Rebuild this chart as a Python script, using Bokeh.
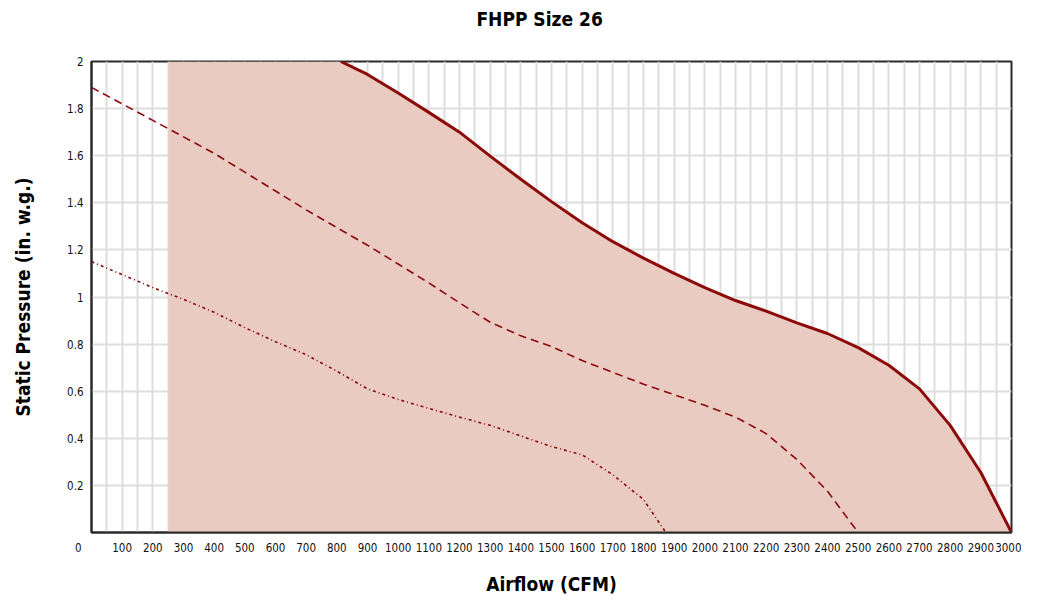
from bokeh.plotting import figure
from bokeh.models import Range1d, FixedTicker, NumeralTickFormatter, LinearAxis
from bokeh.embed import file_html
from bokeh.resources import INLINE

# ---- data ----
solid_cfm = [813, 900, 1000, 1100, 1200, 1300, 1400, 1500, 1600, 1700, 1800, 1900,
             2000, 2100, 2200, 2300, 2400, 2500, 2600, 2700, 2800, 2900, 3000]
solid_sp = [2.00, 1.945, 1.866, 1.784, 1.70, 1.598, 1.50, 1.405, 1.315, 1.235, 1.165, 1.10,
            1.04, 0.985, 0.94, 0.89, 0.845, 0.785, 0.71, 0.61, 0.455, 0.255, 0.0]

dash_cfm = [0, 100, 200, 300, 400, 500, 600, 700, 800, 900, 1000, 1100, 1200, 1300,
            1400, 1500, 1600, 1700, 1800, 1900, 2000, 2100, 2200, 2300, 2400, 2500]
dash_sp = [1.89, 1.82, 1.75, 1.68, 1.61, 1.53, 1.45, 1.37, 1.295, 1.22, 1.14, 1.06, 0.975, 0.893,
           0.835, 0.79, 0.73, 0.68, 0.63, 0.585, 0.54, 0.49, 0.42, 0.31, 0.175, 0.0]

dot_cfm = [0, 100, 200, 300, 400, 500, 600, 700, 800, 900, 1000, 1100, 1200, 1300,
           1400, 1500, 1600, 1700, 1800, 1873]
dot_sp = [1.15, 1.095, 1.04, 0.99, 0.935, 0.87, 0.81, 0.755, 0.685, 0.61, 0.565, 0.527, 0.49, 0.455,
          0.41, 0.365, 0.33, 0.245, 0.14, 0.0]

shade_start = 250
sp_max = 2.0

x_ticks = list(range(0, 3001, 100))
x_grid = list(range(50, 3000, 50))
y_ticks = [0.2, 0.4, 0.6, 0.8, 1.0, 1.2, 1.4, 1.6, 1.8, 2.0]

title_text = "FHPP Size 26"
x_label = "Airflow (CFM)"
y_label = "Static Pressure (in. w.g.)"

FONT = "DejaVu Sans Condensed, Liberation Sans"
RED = "#8c0a0a"
SHADE = "#e9cbc2"

p = figure(width=1021, height=597, output_backend="svg", toolbar_location=None,
           x_range=Range1d(0, 3000), y_range=Range1d(0, 2),
           min_border_left=91, min_border_right=10, min_border_top=61, min_border_bottom=64)

# title drawn as the label of a bare top axis (lets it sit high above the frame)
title_axis = LinearAxis(ticker=FixedTicker(ticks=[]), axis_label=title_text + "\u00a0" * 4,
                        axis_line_color=None, major_tick_line_color=None,
                        minor_tick_line_color=None, major_label_standoff=0,
                        major_tick_in=0, major_tick_out=0, minor_tick_in=0, minor_tick_out=0,
                        axis_label_standoff=32, axis_label_text_font=FONT,
                        axis_label_text_font_size="19px", axis_label_text_font_style="bold",
                        axis_label_text_color="#000000")
p.add_layout(title_axis, "above")

# grid
p.xgrid.ticker = FixedTicker(ticks=x_grid)
p.ygrid.ticker = FixedTicker(ticks=y_ticks[:-1])
p.xgrid.grid_line_color = "#dddddd"
p.ygrid.grid_line_color = "#dddddd"
p.xgrid.grid_line_width = 2
p.ygrid.grid_line_width = 2

# shaded operating region
shade_x = [shade_start] + solid_cfm
shade_top = [sp_max] + solid_sp
p.varea(x=shade_x, y1=[0] * len(shade_x), y2=shade_top, fill_color=SHADE)

p.line(dot_cfm, dot_sp, line_color=RED, line_width=1.6, line_dash="3 3 1 3")
p.line(dash_cfm, dash_sp, line_color=RED, line_width=1.6, line_dash="8 5")
p.line(solid_cfm, solid_sp, line_color=RED, line_width=3)

# axes
xax = p.below[0]
yax = p.left[0]
xax.ticker = FixedTicker(ticks=x_ticks)
xax.major_label_overrides = {0: "0" + "\u00a0" * 8}
yax.ticker = FixedTicker(ticks=y_ticks)
yax.formatter = NumeralTickFormatter(format="0.[0]")
for ax in (xax, yax):
    ax.major_tick_line_color = None
    ax.minor_tick_line_color = None
    ax.major_tick_in = 0
    ax.major_tick_out = 0
    ax.axis_line_color = "#2a2a2a"
    ax.axis_line_width = 2
    ax.major_label_text_font = FONT
    ax.major_label_text_font_size = "11.5px"
    ax.major_label_text_color = "#111111"
    ax.axis_label_text_font = FONT
    ax.axis_label_text_font_size = "19px"
    ax.axis_label_text_font_style = "bold"
    ax.axis_label_text_color = "#000000"
xax.axis_label = x_label
yax.axis_label = y_label
xax.major_label_standoff = 8
yax.major_label_standoff = 8
xax.axis_label_standoff = 15
yax.axis_label_standoff = 30

p.outline_line_color = "#2a2a2a"
p.outline_line_width = 2

open("out.html", "w").write(file_html(p, INLINE))
